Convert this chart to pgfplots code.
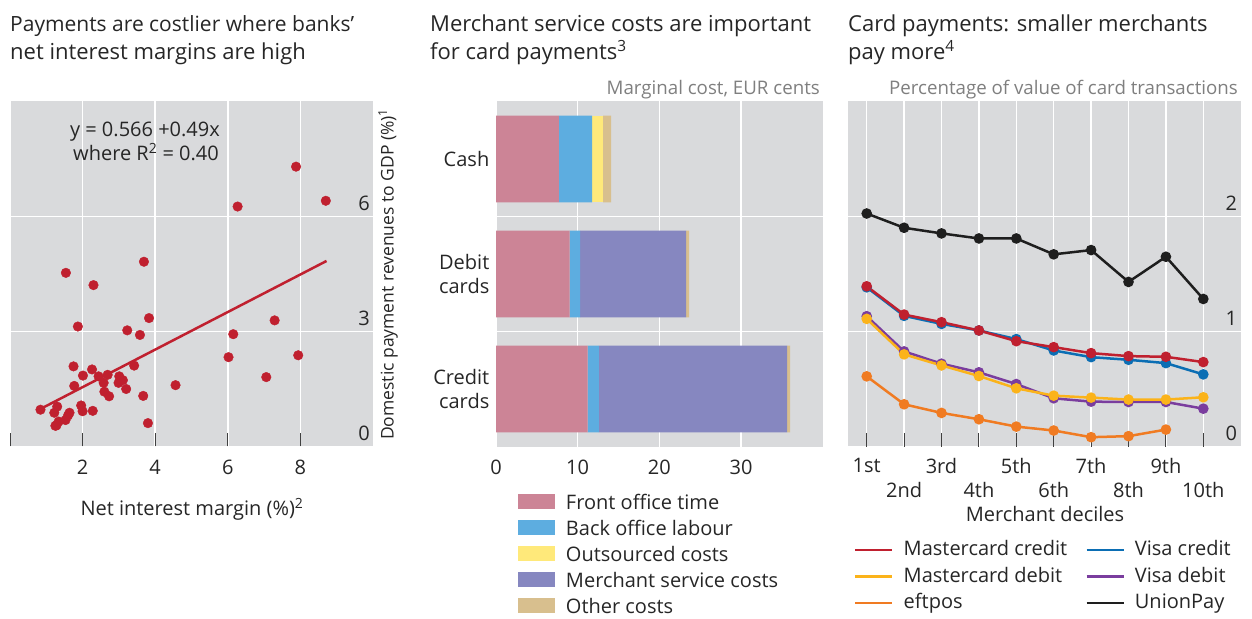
\documentclass[border=0pt]{standalone}
\usepackage{fontspec}
\setmainfont{Open Sans}
\usepackage{pgfplots}
\pgfplotsset{compat=1.18}
\definecolor{bg}{HTML}{D9DADC}
\definecolor{txt}{HTML}{262626}
\definecolor{subt}{HTML}{7F7F7F}
\definecolor{tickc}{HTML}{404040}
\definecolor{scred}{HTML}{C0202F}
\definecolor{cpink}{HTML}{CC8496}
\definecolor{cblue}{HTML}{5DADE0}
\definecolor{cyellow}{HTML}{FFE97A}
\definecolor{cpurple}{HTML}{8687C0}
\definecolor{ctan}{HTML}{D8BF8E}
\definecolor{lred}{HTML}{C0202F}
\definecolor{lblue}{HTML}{0B6EB4}
\definecolor{lyellow}{HTML}{FBB31A}
\definecolor{lorange}{HTML}{F07B22}
\definecolor{lpurple}{HTML}{7A3D9E}
\definecolor{lblack}{HTML}{1E1E1E}
\newcommand{\fs}{\fontsize{20}{24}\selectfont}
\newcommand{\fss}{\fontsize{18.7}{22}\selectfont}
\newcommand{\fst}{\fontsize{22}{26}\selectfont}
\pgfplotsset{
  bisaxis/.style={
    scale only axis, anchor=south west,
    axis background/.style={fill=bg},
    axis line style={draw=none},
    grid style={white, line width=1.5pt},
    tick label style={font=\fs, text=txt},
    /pgf/number format/assume math mode=true,
  },
  mylegbar/.style={legend image code/.code={\fill[##1] (0pt,-7.5pt) rectangle (37pt,7.5pt);}},
  mylegline/.style={legend image code/.code={\draw[##1] (0pt,0pt) -- (37pt,0pt);}},
}
\begin{document}
\begin{tikzpicture}
\path[use as bounding box] (0pt,0pt) rectangle (1252pt,618pt);

% ---------------- Left panel: scatter ----------------
\begin{axis}[bisaxis, at={(10pt,171.5pt)}, width=363pt, height=345pt,
  xmin=0, xmax=10, ymin=0, ymax=9,
  xtick={0,2,4,6,8}, xticklabels={,2,4,6,8},
  ytick={0,3,6},
  xmajorgrids, ymajorgrids,
  xtick pos=left, tick align=inside, major tick length=13pt,
  xtick style={draw=tickc, line width=1pt},
  ytick style={draw=none},
  yticklabel pos=right,
  yticklabel style={anchor=south east, inner sep=0pt, xshift=-3pt, yshift=6pt},
  xticklabel style={anchor=north, inner sep=0pt, yshift=-13.5pt},
]
\addplot[scred, line width=2.5pt] coordinates {(0.84,0.98) (8.72,4.84)};
\addplot[only marks, mark=*, mark size=4.8pt, mark options={draw=scred, fill=scred}] coordinates {
(7.88,7.30) (8.70,6.41) (6.27,6.26) (3.69,4.82) (1.54,4.53) (2.30,4.21)
(3.83,3.35) (7.29,3.29) (1.87,3.13) (3.23,3.03) (3.58,2.91) (6.15,2.93)
(6.02,2.33) (7.94,2.38) (1.75,2.09) (3.42,2.11) (2.26,2.01) (2.01,1.85)
(2.44,1.83) (2.69,1.87) (3.01,1.83) (3.11,1.73) (2.58,1.66) (2.99,1.66)
(1.77,1.58) (4.56,1.60) (7.06,1.81) (3.20,1.50) (2.60,1.43) (2.73,1.31)
(3.67,1.32) (1.96,1.07) (1.30,1.04) (0.84,0.96) (2.00,0.92) (2.28,0.93)
(1.22,0.88) (1.64,0.88) (1.60,0.81) (1.53,0.69) (1.34,0.65) (1.28,0.55)
(1.25,0.54) (3.80,0.61)};
\end{axis}

% ---------------- Middle panel: stacked bars ----------------
\begin{axis}[bisaxis, at={(496pt,171.5pt)}, width=326.7pt, height=345pt,
  xbar stacked, bar width=86.7pt,
  xmin=0, xmax=40, ymin=-0.5, ymax=2.5,
  xtick={0,10,20,30}, xmajorgrids,
  ytick={0,1,2}, yticklabels={{Credit\\cards},{Debit\\cards},{Cash}},
  minor ytick={0.5,1.5}, yminorgrids,
  minor grid style={white, line width=1.5pt},
  major tick length=0pt, minor tick length=0pt,
  tick style={draw=none},
  xticklabel style={anchor=north, inner sep=0pt, yshift=-13pt},
  yticklabel style={anchor=east, align=right, inner sep=0pt, xshift=-6.5pt},
  mylegbar,
  legend cell align=left,
  legend style={at={(axis description cs:0.0673,-0.1377)}, anchor=north west,
    draw=none, fill=none, inner sep=0pt, outer sep=0pt, row sep=11pt,
    nodes={inner sep=0pt, text height=15pt, text depth=0pt, font=\fs, text=txt},
    /tikz/every odd column/.append style={column sep=11pt}},
]
\addplot[fill=cpink, draw=none] coordinates {(11.22,0) (9.02,1) (7.71,2)};
\addplot[fill=cblue, draw=none] coordinates {(1.39,0) (1.27,1) (4.05,2)};
\addplot[fill=cyellow, draw=none] coordinates {(0,0) (0,1) (1.34,2)};
\addplot[fill=cpurple, draw=none] coordinates {(23.02,0) (12.98,1) (0,2)};
\addplot[fill=ctan, draw=none] coordinates {(0.37,0) (0.36,1) (0.98,2)};
\legend{Front office time, Back office labour, Outsourced costs, Merchant service costs, Other costs}
\end{axis}

% ---------------- Right panel: lines ----------------
\begin{axis}[bisaxis, at={(848pt,171.5pt)}, width=392.7pt, height=345pt,
  xmin=0.5, xmax=11, ymin=0, ymax=3,
  xtick={1,3,5,7,9}, xticklabels={1st,3rd,5th,7th,9th},
  extra x ticks={2,4,6,8,10}, extra x tick labels={2nd,4th,6th,8th,10th},
  extra x tick style={xticklabel style={yshift=-24pt}},
  ytick={0,1,2},
  xmajorgrids, ymajorgrids,
  xtick pos=left, tick align=inside, major tick length=13pt,
  xtick style={draw=tickc, line width=1pt},
  ytick style={draw=none},
  yticklabel pos=right,
  yticklabel style={anchor=south east, inner sep=0pt, xshift=-3.5pt, yshift=5.7pt},
  xticklabel style={anchor=north, inner sep=0pt, yshift=-11.5pt},
  mylegline,
  legend columns=2,
  legend cell align=left,
  legend style={at={(axis description cs:0.0153,-0.2826)}, anchor=north west,
    draw=none, fill=none, inner sep=0pt, outer sep=0pt, row sep=14.5pt,
    nodes={inner sep=0pt, text height=12pt, text depth=0pt, font=\fs, text=txt},
    /tikz/every odd column/.append style={column sep=10pt},
    /tikz/every even column/.append style={column sep=18pt}},
  every axis plot/.append style={line width=2.5pt, mark=*, mark size=4pt},
]
\addplot[lblack, mark options={fill=lblack}, forget plot] coordinates {
(1,2.026) (2,1.902) (3,1.853) (4,1.809) (5,1.809) (6,1.671) (7,1.708) (8,1.431) (9,1.650) (10,1.283)};
\addplot[lblue, mark options={fill=lblue}, forget plot] coordinates {
(1,1.384) (2,1.136) (3,1.066) (4,1.009) (5,0.934) (6,0.835) (7,0.777) (8,0.754) (9,0.725) (10,0.627)};
\addplot[lred, mark options={fill=lred}, forget plot] coordinates {
(1,1.393) (2,1.147) (3,1.081) (4,1.009) (5,0.916) (6,0.864) (7,0.812) (8,0.786) (9,0.780) (10,0.734)};
\addplot[lpurple, mark options={fill=lpurple}, forget plot] coordinates {
(1,1.133) (2,0.827) (3,0.720) (4,0.645) (5,0.543) (6,0.419) (7,0.390) (8,0.387) (9,0.387) (10,0.329)};
\addplot[lyellow, mark options={fill=lyellow}, forget plot] coordinates {
(1,1.110) (2,0.801) (3,0.705) (4,0.613) (5,0.506) (6,0.442) (7,0.425) (8,0.408) (9,0.408) (10,0.428)};
\addplot[lorange, mark options={fill=lorange}, forget plot] coordinates {
(1,0.610) (2,0.367) (3,0.292) (4,0.237) (5,0.173) (6,0.139) (7,0.081) (8,0.090) (9,0.147)};
\addlegendimage{lred, line width=2.7pt}\addlegendentry{Mastercard credit}
\addlegendimage{lblue, line width=2.7pt}\addlegendentry{Visa credit}
\addlegendimage{lyellow, line width=2.7pt}\addlegendentry{Mastercard debit}
\addlegendimage{lpurple, line width=2.7pt}\addlegendentry{Visa debit}
\addlegendimage{lorange, line width=2.7pt}\addlegendentry{eftpos}
\addlegendimage{lblack, line width=2.7pt}\addlegendentry{UnionPay}
\end{axis}

% ---------------- Texts ----------------
\begin{scope}[every node/.style={inner sep=0pt, text=txt, font=\fs}]
\node[anchor=base west, font=\fontsize{21}{25}\selectfont] at (10pt,586.3pt) {Payments are costlier where banks’};
\node[anchor=base west, font=\fst] at (10pt,558.7pt) {net interest margins are high};
\node[anchor=base west, font=\fst] at (430pt,586.3pt) {Merchant service costs are important};
\node[anchor=base west, font=\fst] at (430pt,558.7pt) {for card payments\textsuperscript{3}};
\node[anchor=base west, font=\fst] at (848pt,586.3pt) {Card payments: smaller merchants};
\node[anchor=base west, font=\fst] at (848pt,558.7pt) {pay more\textsuperscript{4}};
\node[anchor=base east, text=subt, font=\fss] at (820pt,523.5pt) {Marginal cost, EUR cents};
\node[anchor=base east, text=subt, font=\fss] at (1238pt,523.5pt) {Percentage of value of card transactions};
\node[anchor=base east] at (220pt,481.3pt) {y = 0.566 +0.49x};
\node[anchor=base east] at (219pt,457.3pt) {where R\textsuperscript{2} = 0.40};
\node[anchor=base west, rotate=90, font=\fontsize{17.5}{21}\selectfont] at (393.5pt,178pt) {Domestic payment revenues to GDP (\%)\textsuperscript{1}};
\node[anchor=base] at (192pt,102.3pt) {Net interest margin (\%)\textsuperscript{2}};
\node[anchor=base] at (1045pt,96.3pt) {Merchant deciles};
\end{scope}
\end{tikzpicture}
\end{document}
